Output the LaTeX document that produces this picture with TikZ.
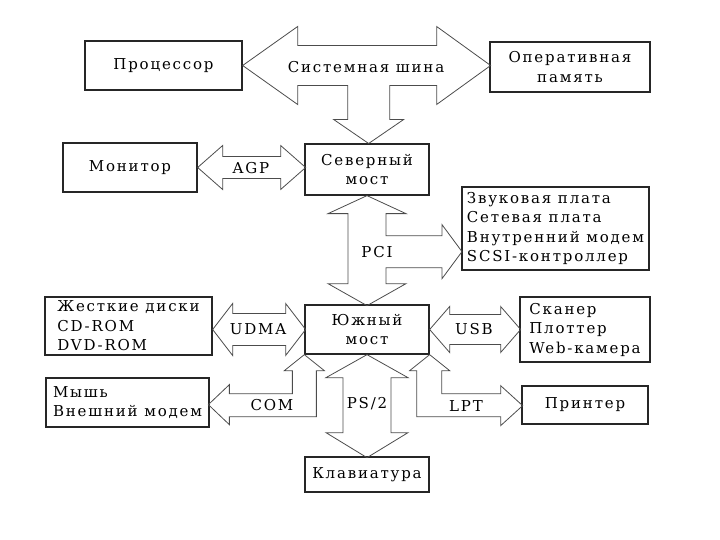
\documentclass[tikz,border=0pt]{standalone}
\usepackage{fontspec}
\setmainfont{DejaVu Serif}[LetterSpace=12]
\usepackage{tikz}
\usepackage{xcolor}
\usetikzlibrary{calc}
\colorlet{outline}{black!85}
\colorlet{arrowline}{black!70}

\begin{document}
\begin{tikzpicture}[x=1pt, y=-1pt,
        font=\fontsize{15}{19.5}\selectfont,
        box/.style={draw=outline, line width=1.3pt, inner sep=1pt, align=center},
        listbox/.style={box, align=left},
        fat/.style={draw=arrowline, line width=0.8pt, line join=miter},
        lbl/.style={inner sep=0pt}]
            % page
            \useasboundingbox (0,0) rectangle (720,540);

            % boxes
            \node[box, minimum width=157, minimum height=49] (cpu) at (163.5,65.5) {Процессор};
            \node[box, minimum width=160, minimum height=50] (ram) at (570,67) {Оперативная\\память};
            \node[box, minimum width=134, minimum height=49] (mon) at (130,167.5) {Монитор};
            \node[box, minimum width=124, minimum height=51] (nb) at (367,169.5) {Северный\\мост};
            \node[listbox, minimum width=187, minimum height=83] (snd) at (555.5,228.5)
                {Звуковая плата\\Сетевая плата\\Внутренний модем\\SCSI-контроллер};
            \node[listbox, minimum width=167, minimum height=58] (hdd) at (128.5,326)
                {Жесткие диски\\CD-ROM\\DVD-ROM};
            \node[box, minimum width=124, minimum height=49] (sb) at (367,329.5) {Южный\\мост};
            \node[listbox, minimum width=130, minimum height=65] (scan) at (585,329.5)
                {Сканер\\Плоттер\\Web-камера};
            \node[listbox, minimum width=163, minimum height=49] (mouse) at (127.5,402.5)
                {Мышь\\Внешний модем};
            \node[box, minimum width=126, minimum height=38] (prn) at (585,405) {Принтер};
            \node[box, minimum width=124, minimum height=35] (kbd) at (367,474.5) {Клавиатура};

            % system bus (cpu - ram - north bridge)
            \draw[fat] (cpu.east) -- ++(55,-39) -- ++(0,19) -- ++(139,0) -- ++(0,-19)
                -- ++(54,39) -- ++(-54,39) -- ++(0,-19) -- ++(-47,0) -- ++(0,34)
                -- ++(14,0) -- ++(-35,24) -- ++(-35,-24) -- ++(14,0) -- ++(0,-34)
                -- ++(-50,0) -- ++(0,19) -- cycle;
            \node[lbl] (sysbus) at (366,67) {Системная шина};

            % agp
            \draw[fat] (mon.east) -- ++(25,-22) -- ++(0,11) -- ++(58,0) -- ++(0,-11)
                -- ++(25,22) -- ++(-25,22) -- ++(0,-11) -- ++(-58,0) -- ++(0,11) -- cycle;
            \node[lbl] (agp) at (251,168) {AGP};

            % pci (north bridge - south bridge - cards)
            \draw[fat] (nb.south) -- ++(39,18) -- ++(-20,0) -- ++(0,22) -- ++(56,0)
                -- ++(0,-11) -- ++(20,27) -- ++(-20,27) -- ++(0,-11) -- ++(-56,0)
                -- ++(0,16) -- ++(20,0) -- ++(-39,22) -- ++(-39,-22) -- ++(20,0)
                -- ++(0,-70) -- ++(-20,0) -- cycle;
            \node[lbl] (pci) at (377,252) {PCI};

            % udma
            \draw[fat] (sb.west -| hdd.east) -- ++(20,-26) -- ++(0,10) -- ++(53,0) -- ++(0,-10)
                -- ++(20,26) -- ++(-20,26) -- ++(0,-10) -- ++(-53,0) -- ++(0,10) -- cycle;
            \node[lbl] (udma) at (258,329) {UDMA};

            % usb
            \draw[fat] (sb.east) -- ++(20,-23) -- ++(0,8) -- ++(51,0) -- ++(0,-8)
                -- ++(20,23) -- ++(-20,23) -- ++(0,-8) -- ++(-51,0) -- ++(0,8) -- cycle;
            \node[lbl] (usb) at (474,329) {USB};

            % com
            \draw[fat] (sb.south west) -- ++(20,16) -- ++(-8,0) -- ++(0,46) -- ++(-87,0)
                -- ++(0,8) -- ++(-21,-20) -- ++(21,-20) -- ++(0,9) -- ++(63,0)
                -- ++(0,-23) -- ++(-8,0) -- cycle;
            \node[lbl] (com) at (272,405) {COM};

            % ps/2
            \draw[fat] (sb.south) -- ++(41,23) -- ++(-17,0) -- ++(0,55) -- ++(17,0)
                -- ++(-41,25) -- ++(-41,-25) -- ++(17,0) -- ++(0,-55) -- ++(-17,0) -- cycle;
            \node[lbl] (ps2) at (367,404) {PS/2};

            % lpt
            \draw[fat] (sb.south east) -- ++(20,16) -- ++(-8,0) -- ++(0,23) -- ++(59,0)
                -- ++(0,-8) -- ++(22,20) -- ++(-22,20) -- ++(0,-9) -- ++(-84,0)
                -- ++(0,-46) -- ++(-7,0) -- cycle;
            \node[lbl] (lpt) at (466,406) {LPT};
\end{tikzpicture}
\end{document}
